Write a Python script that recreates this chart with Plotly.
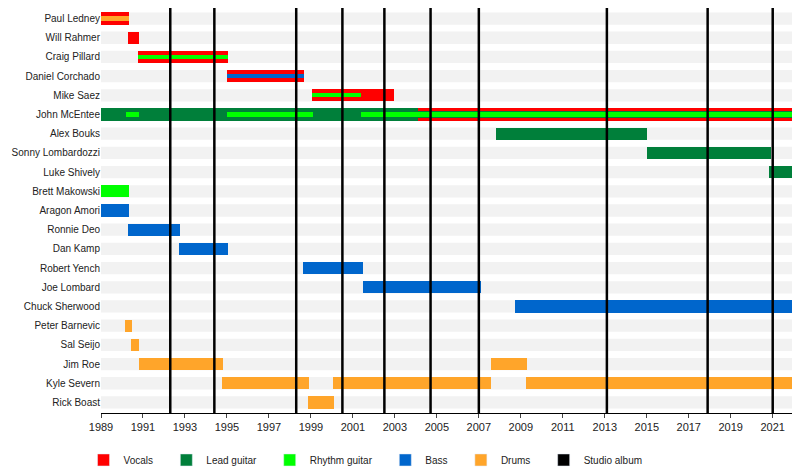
import plotly.graph_objects as go

members = ["Paul Ledney","Will Rahmer","Craig Pillard","Daniel Corchado","Mike Saez","John McEntee",
           "Alex Bouks","Sonny Lombardozzi","Luke Shively","Brett Makowski","Aragon Amori","Ronnie Deo",
           "Dan Kamp","Robert Yench","Joe Lombard","Chuck Sherwood","Peter Barnevic","Sal Seijo",
           "Jim Roe","Kyle Severn","Rick Boast"]
END = 2022.3
# (member, role, start, end, layer)  layer: 'full' main bar, 'mid'/'thin' inner stripes
spans = [
    ("Paul Ledney","Vocals",1989.0,1990.35,"full"),("Paul Ledney","Drums",1989.0,1990.35,"thin"),
    ("Will Rahmer","Vocals",1990.3,1990.8,"full"),
    ("Craig Pillard","Vocals",1990.75,1995.05,"full"),("Craig Pillard","Rhythm guitar",1990.75,1995.05,"thin"),
    ("Daniel Corchado","Vocals",1995.0,1998.65,"full"),("Daniel Corchado","Bass",1995.0,1998.65,"thin"),
    ("Mike Saez","Vocals",1999.05,2002.95,"full"),("Mike Saez","Rhythm guitar",1999.05,2001.4,"thin"),
    ("John McEntee","Vocals",2004.1,END,"full"),("John McEntee","Lead guitar",1989.0,2004.1,"full"),
    ("John McEntee","Lead guitar",2004.1,END,"mid"),
    ("John McEntee","Rhythm guitar",1990.2,1990.8,"thin"),("John McEntee","Rhythm guitar",1995.0,1999.1,"thin"),
    ("John McEntee","Rhythm guitar",2001.4,END,"thin"),
    ("Alex Bouks","Lead guitar",2007.8,2015.0,"full"),
    ("Sonny Lombardozzi","Lead guitar",2015.0,2020.9,"full"),
    ("Luke Shively","Lead guitar",2020.8,END,"full"),
    ("Brett Makowski","Rhythm guitar",1989.0,1990.35,"full"),
    ("Aragon Amori","Bass",1989.0,1990.35,"full"),
    ("Ronnie Deo","Bass",1990.3,1992.75,"full"),
    ("Dan Kamp","Bass",1992.7,1995.05,"full"),
    ("Robert Yench","Bass",1998.6,2001.5,"full"),
    ("Joe Lombard","Bass",2001.5,2007.1,"full"),
    ("Chuck Sherwood","Bass",2008.7,END,"full"),
    ("Peter Barnevic","Drums",1990.15,1990.5,"full"),
    ("Sal Seijo","Drums",1990.45,1990.8,"full"),
    ("Jim Roe","Drums",1990.8,1994.8,"full"),("Jim Roe","Drums",2007.6,2009.3,"full"),
    ("Kyle Severn","Drums",1994.75,1998.9,"full"),("Kyle Severn","Drums",2000.05,2007.6,"full"),
    ("Kyle Severn","Drums",2009.25,END,"full"),
    ("Rick Boast","Drums",1998.85,2000.1,"full"),
]
albums = [1992.3,1994.4,1998.3,2000.5,2002.5,2004.7,2007.0,2013.1,2017.9,2021.0]
roles = ["Vocals","Lead guitar","Rhythm guitar","Bass","Drums"]
colors = {"Vocals":"#ff0000","Lead guitar":"#007f3a","Rhythm guitar":"#00ff00","Bass":"#0066cc",
          "Drums":"#ffa52a","Studio album":"#000000"}
ticks = list(range(1989, 2022, 2))

ypos = {m: len(members)-1-i for i, m in enumerate(members)}
widths = {"full":0.64,"mid":0.34,"thin":0.22}

fig = go.Figure()
for layer in ["full","mid","thin"]:
    for role in roles:
        s = [x for x in spans if x[1]==role and x[4]==layer]
        if not s: continue
        fig.add_trace(go.Bar(orientation="h", y=[ypos[x[0]] for x in s],
            x=[x[3]-x[2] for x in s], base=[x[2] for x in s], width=[widths[layer]]*len(s),
            marker=dict(color=colors[role], line=dict(width=0)), showlegend=False, hoverinfo="skip",
            name=role+" "+layer))
for role in roles+["Studio album"]:
    fig.add_trace(go.Bar(orientation="h", y=[None], x=[None], name=role+"\u00a0\u00a0\u00a0",
        marker=dict(color=colors[role]), showlegend=True))

shapes = []
for m in members:
    y = ypos[m]
    shapes.append(dict(type="rect", xref="paper", yref="y", x0=0, x1=1, y0=y-0.32, y1=y+0.32,
                       fillcolor="#f2f2f2", line=dict(width=0), layer="below"))
for a in albums:
    shapes.append(dict(type="line", xref="x", yref="paper", x0=a, x1=a, y0=0, y1=1,
                       line=dict(color="black", width=2.5), layer="above"))
fig.update_layout(
    width=792, height=462, margin=dict(l=93, r=0, t=0, b=57, autoexpand=False),
    plot_bgcolor="white", paper_bgcolor="white", barmode="overlay", bargap=0,
    font=dict(family="Liberation Sans, Arial", size=10, color="#222"),
    shapes=shapes,
    xaxis=dict(range=[1989, END], tickvals=ticks, ticks="outside", ticklen=4, showgrid=False,
               showline=True, linecolor="black", zeroline=False, tickfont=dict(size=11), automargin=False),
    yaxis=dict(tickvals=[ypos[m] for m in members], ticktext=members, range=[-0.55, len(members)-0.45],
               showgrid=False, zeroline=False, ticks="", ticksuffix=" ", automargin=False),
    legend=dict(orientation="h", x=-0.025, xanchor="left", y=-0.116, yanchor="middle",
                font=dict(size=10), itemwidth=30, tracegroupgap=0),
)
fig.write_html("out.html")
